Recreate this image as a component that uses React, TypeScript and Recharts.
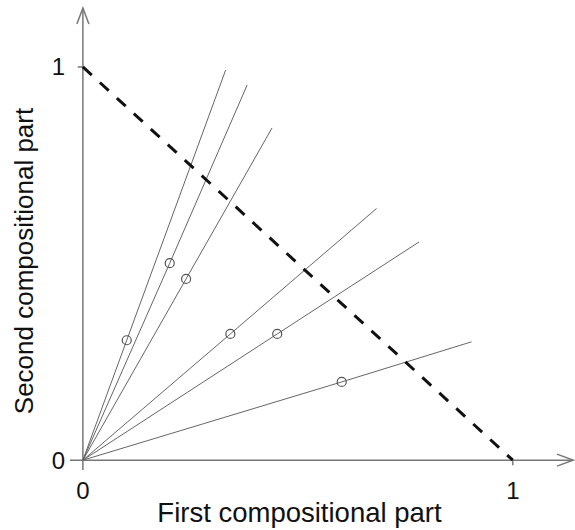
import { ComposedChart, Line, XAxis, YAxis, ReferenceLine } from 'recharts'

// rays from the origin: end points
const rayEndX = [0.332, 0.382, 0.44, 0.683, 0.782, 0.904]
const rayEndY = [0.992, 0.954, 0.845, 0.64, 0.555, 0.301]
// marked composition on each ray
const pointX = [0.102, 0.202, 0.24, 0.343, 0.452, 0.602]
const pointY = [0.305, 0.501, 0.461, 0.321, 0.321, 0.199]
// the simplex x + y = 1
const simplexX = [0, 1]
const simplexY = [1, 0]
const tickValues = [0, 1]

const FONT = '"Liberation Sans", Arial, Helvetica, sans-serif'
const AXIS = '#777'

const rays = rayEndX.map((ex, i) => [
  { x: 0, y: 0 },
  { x: pointX[i], y: pointY[i] },
  { x: ex, y: rayEndY[i] },
])
const simplex = simplexX.map((x, i) => ({ x, y: simplexY[i] }))

const renderDot = (props: any) => {
  const { cx, cy, index } = props
  if (index !== 1) return <g key={`e${index}`} />
  return <circle key={`p${index}`} cx={cx} cy={cy} r={4.5} fill="none" stroke="#555" strokeWidth={1.2} />
}

export default function App() {
  return (
    <div style={{ position: 'absolute', left: 0, top: 0, background: '#fff' }}>
      <ComposedChart width={575} height={530} margin={{ top: 8, right: 2, left: 30, bottom: 0 }}>
        <defs>
          <marker
            id="arrow"
            markerUnits="userSpaceOnUse"
            markerWidth={20}
            markerHeight={16}
            viewBox="0 0 20 16"
            refX={18}
            refY={8}
            orient="auto"
          >
            <path d="M2,2 L18,8 L2,14" fill="none" stroke={AXIS} strokeWidth={1.5} />
          </marker>
        </defs>
        <XAxis
          type="number"
          dataKey="x"
          domain={[-0.03, 1.14]}
          ticks={tickValues}
          axisLine={false}
          tickLine={false}
          tickSize={0}
          tickMargin={12}
          height={60}
          allowDataOverflow
          tick={{ fill: '#111', fontSize: 24, fontFamily: FONT }}
          label={{
            content: ({ viewBox }: any) => (
              <text
                x={viewBox.x + viewBox.width / 2 - 22}
                y={viewBox.y + 52}
                textAnchor="middle"
                fill="#111"
                fontSize={27.5}
                fontFamily={FONT}
              >
                First compositional part
              </text>
            ),
          }}
        />
        <YAxis
          type="number"
          dataKey="y"
          domain={[-0.025, 1.15]}
          ticks={tickValues}
          axisLine={false}
          tickLine={false}
          tickSize={0}
          tickMargin={5}
          width={40}
          allowDataOverflow
          tick={{ fill: '#111', fontSize: 24, fontFamily: FONT }}
          label={{
            content: ({ viewBox }: any) => {
              const x = viewBox.x + 3
              const y = viewBox.y + viewBox.height / 2 + 22
              return (
                <text
                  x={x}
                  y={y}
                  transform={`rotate(-90, ${x}, ${y})`}
                  textAnchor="middle"
                  fill="#111"
                  fontSize={26}
                  fontFamily={FONT}
                >
                  Second compositional part
                </text>
              )
            },
          }}
        />
        {/* axes with arrow heads */}
        <ReferenceLine y={0} stroke={AXIS} strokeWidth={1.5} markerEnd="url(#arrow)" />
        <ReferenceLine x={0} stroke={AXIS} strokeWidth={1.5} markerEnd="url(#arrow)" />
        <ReferenceLine segment={[{ x: 1, y: 0 }, { x: 1, y: -0.013 }]} stroke={AXIS} strokeWidth={1.5} />
        <ReferenceLine segment={[{ x: 0, y: 1 }, { x: -0.012, y: 1 }]} stroke={AXIS} strokeWidth={1.5} />
        {rays.map((d, i) => (
          <Line
            key={i}
            data={d}
            dataKey="y"
            type="linear"
            stroke="#666"
            strokeWidth={1}
            dot={renderDot}
            activeDot={false}
            isAnimationActive={false}
          />
        ))}
        <Line
          data={simplex}
          dataKey="y"
          type="linear"
          stroke="#111"
          strokeWidth={3}
          strokeDasharray="12 11"
          dot={false}
          activeDot={false}
          isAnimationActive={false}
        />
      </ComposedChart>
    </div>
  )
}
